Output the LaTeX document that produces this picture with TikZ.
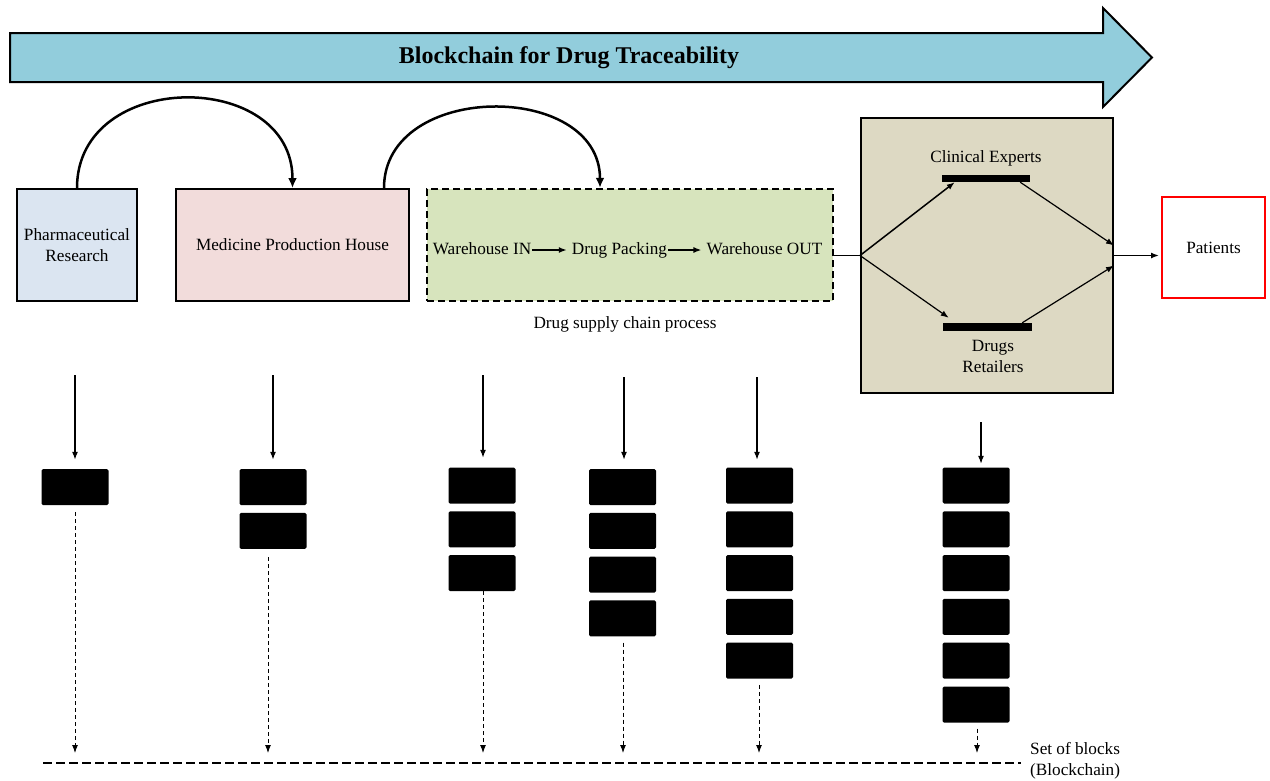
\documentclass[tikz,border=0pt]{standalone}
\usepackage{fontspec}
\setmainfont{Liberation Serif}
\usetikzlibrary{arrows.meta,positioning}

\definecolor{bannerblue}{HTML}{92CDDC}
\definecolor{researchblue}{HTML}{DBE5F1}
\definecolor{housepink}{HTML}{F2DCDB}
\definecolor{chaingreen}{HTML}{D7E4BD}
\definecolor{expertstan}{HTML}{DDD9C3}

\tikzset{
  lbl/.style={font=\fontsize{17.2}{21}\selectfont, align=center, inner sep=0pt},
  stage/.style={lbl, draw=black, line width=2pt},
  chainblock/.style={fill=black, rounded corners=1.5pt, minimum width=67pt, minimum height=36pt, inner sep=0pt},
  bar/.style={fill=black, inner sep=0pt},
  flowtext/.style={lbl, text height=12pt, text depth=4pt},
}

\begin{document}
\begin{tikzpicture}[>={Latex[length=8pt,width=6pt]}, x=1pt, y=-1pt]
                \useasboundingbox (0,0) rectangle (1270,780);

                % Banner
                \draw[fill=bannerblue, line width=2pt] (10,33) -- (1103,33) -- (1103,8) -- (1152,57.5)
                    -- (1103,107) -- (1103,82) -- (10,82) -- cycle;
                \node[font=\fontsize{24}{28}\selectfont\bfseries] (title) at (569,58) {Blockchain for Drug Traceability};

                % Stages
                \node[stage, fill=researchblue, minimum width=120pt, minimum height=112pt] (pr) at (77,245) {Pharmaceutical\\Research};
                \node[stage, fill=housepink, minimum width=233pt, minimum height=112pt] (mph) at (292.5,245) {Medicine Production House};
                \node[stage, fill=chaingreen, dash pattern=on 7pt off 4pt, line width=2.5pt, minimum width=406pt, minimum height=112pt] (sc) at (630,245) {};
                \node[flowtext] (wi) at (482,250) {Warehouse IN};
                \node[flowtext] (dp) at (619.5,250) {Drug Packing};
                \node[flowtext] (wo) at (764.5,250) {Warehouse OUT};
                \draw[->, line width=1.5pt, shorten <=1pt, shorten >=5pt] (wi) -- (dp);
                \draw[->, line width=1.5pt, shorten <=1pt, shorten >=5pt] (dp) -- (wo);
                \node[lbl] (scl) at (625,324) {Drug supply chain process};

                \node[stage, fill=expertstan, minimum width=252pt, minimum height=275pt] (tan) at (987,255.5) {};
                \node[bar, minimum width=88pt, minimum height=7pt] (ce) at (986,178.5) {};
                \node[bar, minimum width=89pt, minimum height=8pt] (dr) at (987.5,327) {};
                \node[lbl] (cel) at (986,158) {Clinical Experts};
                \node[lbl] (drl) at (993,356) {Drugs\\Retailers};
                \node[stage, draw=red, fill=white, minimum width=103pt, minimum height=101pt] (pat) at (1213.5,247.5) {Patients};

                % Hand-over arcs
                \draw[->, line width=2.5pt, >={Latex[length=10pt,width=9pt]}] (pr.north) to[out=90, in=90, looseness=1.42] (mph.north);
                \draw[->, line width=2.5pt, >={Latex[length=10pt,width=9pt]}] ([xshift=-26pt]mph.north east) to[out=90, in=90, looseness=1.27] ([xshift=-30pt]sc.north);

                % Distribution
                \draw[line width=1.5pt] (sc.east |- tan.west) -- (tan.west);
                \draw[->, line width=1.5pt] (tan.west) -- ([xshift=13pt]ce.south west);
                \draw[->, line width=1.2pt] (tan.west) -- ([xshift=6pt,yshift=5pt]dr.north west);
                \draw[->, line width=1.2pt] ([xshift=-10pt]ce.south east) -- ([yshift=10pt]tan.east);
                \draw[->, line width=1.2pt] ([xshift=-10pt]dr.north east) -- ([yshift=-10pt]tan.east);
                \draw[->, line width=1.5pt, shorten >=2pt] (tan.east) -- (tan.east -| pat.west);

                % Blocks
                \foreach \col/\x/\top/\n in {1/75/469/1, 2/273/469/2, 3/482/467.5/3, 4/622.5/469/4, 5/759.5/467.5/5, 6/976/467.5/6}
                    \foreach \k in {1,...,\n}
                        \node[chainblock] (b\col-\k) at (\x,{\top+18+(\k-1)*43.8}) {};

                % Records into blocks
                \foreach \col/\x/\y/\s in {1/75/375/9, 2/273/375/9, 3/483/375/9.5, 4/624/377/9, 5/757/377/7.5, 6/981/422/3.5}{
                    \coordinate (in\col) at (\x,\y);
                    \draw[->, line width=1.2pt, shorten >=\s pt] (in\col) -- (in\col |- b\col-1.north);
                }

                % Ledger
                \coordinate (ledgerL) at (43,763);
                \coordinate (ledgerR) at (1021,763);
                \draw[line width=2.5pt, dash pattern=on 9pt off 4pt] (ledgerL) -- (ledgerR);
                \node[lbl, align=left, anchor=west] (setl) at (1030,761) {Set of blocks\\(Blockchain)};
                \foreach \col/\x/\n/\g in {1/75/1/7, 2/268/2/8, 3/483/3/0, 4/623/4/6, 5/759/5/6, 6/977/6/6}{
                    \coordinate (down\col) at (\x,763);
                    \draw[->, line width=1pt, dash pattern=on 4pt off 3pt, shorten <=\g pt, shorten >=10pt] (down\col |- b\col-\n.south) -- (down\col);
                }
            \end{tikzpicture}
\end{document}
